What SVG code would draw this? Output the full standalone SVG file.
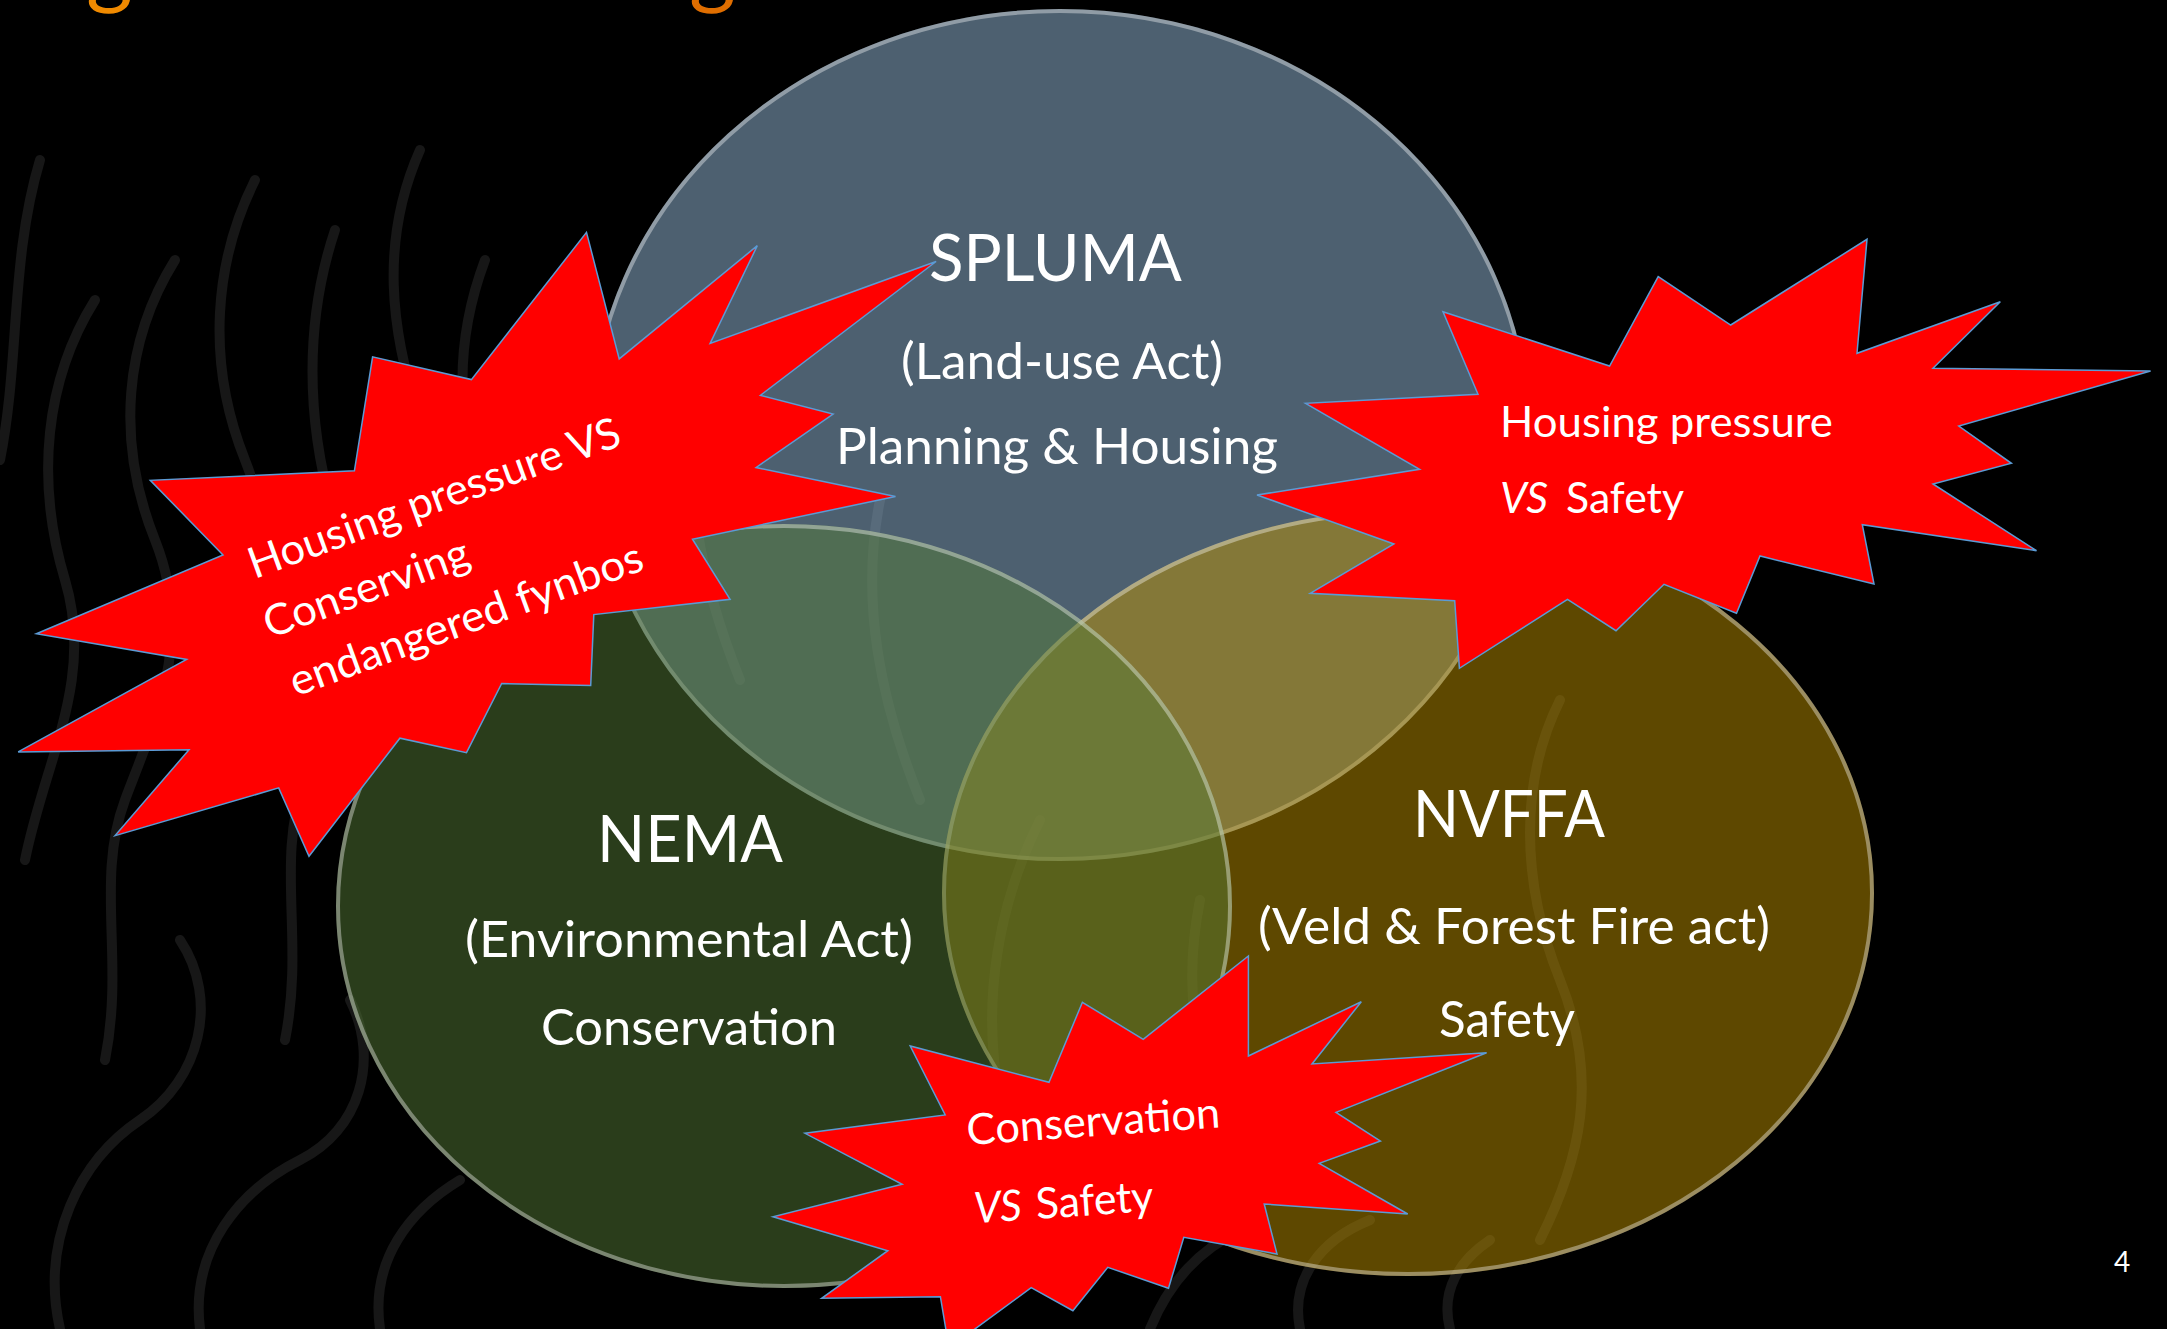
<svg xmlns="http://www.w3.org/2000/svg" width="2167" height="1329" viewBox="0 0 2167 1329">
  <defs>
    <style>
      .bgline { fill: none; stroke: #171717; stroke-width: 10; stroke-linecap: round; }
      .circle { fill-opacity: 0.5; }
      .rim { fill: none; stroke: #ffffff; stroke-opacity: 0.38; stroke-width: 4; }
      .lbl { font-family: Lato, "Open Sans", "Liberation Sans", sans-serif; fill: #ffffff; }
      .big { font-size: 66px; }
      .sub { font-size: 50px; }
      .btxt { font-size: 43px; }
      .it { font-style: italic; }
      .burst { fill: #ff0000; stroke: #5b9bd5; stroke-width: 1.5; stroke-linejoin: miter; }
      .orange { font-family: Lato, "Open Sans", sans-serif; font-size: 90px; }
    </style>
  </defs>

  <rect x="0" y="0" width="2167" height="1329" fill="#000000"/>

  <g id="background-pattern">
    <path class="bgline" d="M 40,160 C 10,260 20,360 0,460"/>
    <path class="bgline" d="M 95,300 C 45,380 35,480 65,580 C 95,680 45,760 25,860"/>
    <path class="bgline" d="M 175,260 C 125,340 115,440 155,540 C 195,640 155,720 125,800 C 95,880 125,960 105,1060"/>
    <path class="bgline" d="M 255,180 C 215,260 205,360 245,460 C 285,560 255,640 225,720"/>
    <path class="bgline" d="M 335,230 C 305,320 305,420 335,520 C 365,620 335,700 305,780 C 275,860 305,940 285,1040"/>
    <path class="bgline" d="M 420,150 C 380,240 390,330 420,420"/>
    <path class="bgline" d="M 485,260 C 455,340 455,420 485,500 C 515,580 495,650 475,720"/>
    <path class="bgline" d="M 60,1329 C 40,1240 80,1160 140,1120 C 200,1080 220,1000 180,940"/>
    <path class="bgline" d="M 200,1329 C 190,1250 240,1190 300,1160 C 360,1130 380,1060 350,1000"/>
    <path class="bgline" d="M 380,1329 C 370,1260 410,1210 460,1180"/>
    <path class="bgline" d="M 1150,1329 C 1170,1280 1200,1250 1240,1230"/>
    <path class="bgline" d="M 1300,1329 C 1290,1280 1320,1240 1370,1220"/>
    <path class="bgline" d="M 1450,1329 C 1440,1290 1460,1260 1490,1240"/>
    <path class="bgline" d="M 700,380 C 680,480 700,580 740,680"/>
    <path class="bgline" d="M 880,500 C 860,600 880,700 920,800"/>
    <path class="bgline" d="M 1000,1100 C 980,1000 1000,900 1040,820"/>
    <path class="bgline" d="M 1200,900 C 1180,1000 1200,1080 1240,1160"/>
    <path class="bgline" d="M 1560,700 C 1520,780 1520,880 1560,980 C 1600,1080 1580,1160 1540,1240"/>
  </g>

  <g id="title-fragment">
    <text class="orange" x="86" y="-3" fill="#f08a00">g</text>
    <text class="orange" x="689" y="-3" fill="#e06e00">g</text>
  </g>

  <g id="node-spluma">
    <ellipse class="circle" cx="1060" cy="435" rx="470" ry="426" fill="#9ac0e0"/>
    <ellipse class="rim" cx="1060" cy="435" rx="468" ry="424"/>
    <text class="lbl big" x="929" y="281" textLength="253" lengthAdjust="spacingAndGlyphs">SPLUMA</text>
    <text class="lbl sub" x="901" y="379" textLength="322" lengthAdjust="spacingAndGlyphs">(Land-use Act)</text>
    <text class="lbl sub" x="836" y="464" textLength="442" lengthAdjust="spacingAndGlyphs">Planning &amp; Housing</text>
  </g>

  <g id="node-nvffa">
    <ellipse class="circle" cx="1408" cy="893" rx="466" ry="383" fill="#bc9000"/>
    <ellipse class="rim" cx="1408" cy="893" rx="464" ry="381"/>
    <text class="lbl big" x="1413" y="837" textLength="192" lengthAdjust="spacingAndGlyphs">NVFFA</text>
    <text class="lbl sub" x="1258" y="944" textLength="512" lengthAdjust="spacingAndGlyphs">(Veld &amp; Forest Fire act)</text>
    <text class="lbl sub" x="1439" y="1037" textLength="136" lengthAdjust="spacingAndGlyphs">Safety</text>
  </g>

  <g id="node-nema">
    <ellipse class="circle" cx="784" cy="906" rx="448" ry="382" fill="#547a36"/>
    <ellipse class="rim" cx="784" cy="906" rx="446" ry="380"/>
    <text class="lbl big" x="597" y="862" textLength="186" lengthAdjust="spacingAndGlyphs">NEMA</text>
    <text class="lbl sub" x="465" y="957" textLength="448" lengthAdjust="spacingAndGlyphs">(Environmental Act)</text>
    <text class="lbl sub" x="541" y="1045" textLength="296" lengthAdjust="spacingAndGlyphs">Conservation</text>
  </g>

  <g id="connectors"></g>

  <g id="burst-housing-conserving">
    <polygon class="burst" points="586.5,232.4 619.2,358.9 757.3,245.7 710.1,343.5 936.1,261.5 760.4,395.4 833.1,414 756.1,467.5 895.5,496.5 692.5,539.2 730.1,599.3 593.8,614.6 590.7,685.5 501.7,683.5 466.5,752.7 399.9,738.2 309,856.3 278.7,787.9 115.1,835.6 189,749.8 18.2,751.9 186.6,659.4 36.4,633.7 223,555 150.3,480.3 354.4,470.8 372.6,356.8 471.4,379.6"/>
    <text class="lbl btxt" transform="translate(254.5,579) rotate(-20)" textLength="393" lengthAdjust="spacingAndGlyphs">Housing pressure VS</text>
    <text class="lbl btxt" transform="translate(269.7,638.7) rotate(-20)" textLength="216" lengthAdjust="spacingAndGlyphs">Conserving</text>
    <text class="lbl btxt" transform="translate(295.8,696.8) rotate(-20)" textLength="373" lengthAdjust="spacingAndGlyphs">endangered fynbos</text>
  </g>

  <g id="burst-housing-safety">
    <polygon class="burst" points="1867,239.3 1857,353.3 2000.3,301.7 1933,368.3 2150.6,371 1958.8,426 2011.4,463.3 1933,484 2036.5,550.7 1862.3,524.7 1874,584 1760,556 1736.5,613.3 1664,584.3 1616,630.7 1567.5,599.3 1459.4,668.3 1454.7,600.7 1310.2,593.3 1393.9,544 1257,495 1419.6,469.3 1305.6,403.3 1478,394.3 1443,311.7 1609.6,366 1658.2,276.7 1730.7,325"/>
    <text class="lbl btxt" x="1500" y="437" textLength="333" lengthAdjust="spacingAndGlyphs">Housing pressure</text>
    <text class="lbl btxt it" x="1500" y="513" textLength="48" lengthAdjust="spacingAndGlyphs">VS</text>
    <text class="lbl btxt" x="1566" y="513" textLength="118" lengthAdjust="spacingAndGlyphs">Safety</text>
  </g>

  <g id="burst-conservation-safety">
    <polygon class="burst" points="1248.4,956 1248.4,1056 1361.3,1001.7 1312,1064 1486.6,1052.7 1336,1112.3 1380.4,1141 1319.2,1163.3 1407.7,1214 1264.2,1204 1277,1254 1183.8,1237.3 1168.5,1288.3 1107.8,1267.3 1072.9,1310.7 1031.2,1287.7 949,1348 940.4,1296.7 821.7,1298.3 887.8,1250.7 773,1216.7 902.1,1184.3 805,1133.3 945.2,1115 910.2,1046 1049,1082.3 1082.4,1002.3 1143.2,1039.3"/>
    <text class="lbl btxt" transform="translate(967.6,1145) rotate(-4)" textLength="254" lengthAdjust="spacingAndGlyphs">Conservation</text>
    <g transform="translate(974.8,1223.3) rotate(-4)">
      <text class="lbl btxt it" x="0" y="0" textLength="48" lengthAdjust="spacingAndGlyphs">VS</text>
      <text class="lbl btxt" x="62" y="0" textLength="118" lengthAdjust="spacingAndGlyphs">Safety</text>
    </g>
  </g>

  <g id="page-number">
    <text class="lbl" x="2114" y="1272" font-size="28" fill="#e6e6e6">4</text>
  </g>
</svg>
